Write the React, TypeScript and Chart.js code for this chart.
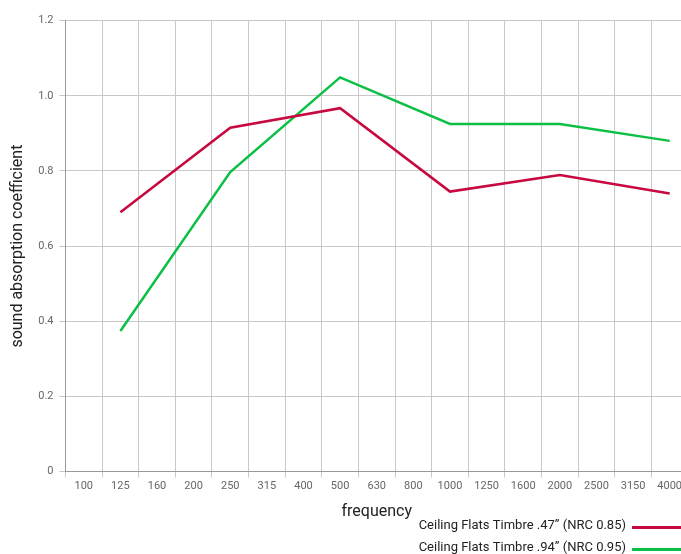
import React, { useEffect, useRef } from "react";
import { Chart, registerables } from "chart.js";

Chart.register(...registerables);

const categories = ["100", "125", "160", "200", "250", "315", "400", "500", "630", "800", "1000", "1250", "1600", "2000", "2500", "3150", "4000"];
const seriesNames = ["Ceiling Flats Timbre .47\u201D (NRC 0.85)", "Ceiling Flats Timbre .94\u201D (NRC 0.95)"];
const thinValues = [null, 0.69, null, null, 0.915, null, null, 0.967, null, null, 0.745, null, null, 0.789, null, null, 0.74];
const thickValues = [null, 0.374, null, null, 0.797, null, null, 1.049, null, null, 0.925, null, null, 0.925, null, null, 0.88];
const colors = ["#c8093f", "#0cbf45"];
const yTicks = [0, 0.2, 0.4, 0.6, 0.8, 1.0, 1.2];

const LEGEND_H = 54;
const BOTTOM_PAD = 54;

const stackedLegendPlugin = {
  id: "stackedLegend",
  afterDraw(chart: any) {
    const ctx = chart.ctx;
    const top = chart.height - LEGEND_H;
    const lineStart = chart.width - 56;
    ctx.save();
    ctx.font = "13px Roboto";
    ctx.textAlign = "right";
    ctx.textBaseline = "middle";
    chart.data.datasets.forEach((d: any, i: number) => {
      const y = top + 16 + i * 22;
      ctx.fillStyle = "#222";
      ctx.fillText(d.label, lineStart - 6, y);
      ctx.strokeStyle = d.borderColor;
      ctx.lineWidth = 3;
      ctx.beginPath();
      ctx.moveTo(lineStart, y + 1.5);
      ctx.lineTo(lineStart + 60, y + 1.5);
      ctx.stroke();
    });
    ctx.restore();
  },
};

export default function App() {
  const ref = useRef<HTMLCanvasElement | null>(null);
  useEffect(() => {
    if (!ref.current) return;
    const chart = new Chart(ref.current, {
      type: "line",
      data: {
        labels: categories,
        datasets: [
          { label: seriesNames[0], data: thinValues, borderColor: colors[0], backgroundColor: colors[0], borderWidth: 2.5, pointRadius: 0, spanGaps: true, tension: 0 },
          { label: seriesNames[1], data: thickValues, borderColor: colors[1], backgroundColor: colors[1], borderWidth: 2.5, pointRadius: 0, spanGaps: true, tension: 0 },
        ],
      },
      plugins: [stackedLegendPlugin],
      options: {
        animation: false,
        responsive: true,
        maintainAspectRatio: false,
        layout: { padding: { top: 1, right: 0, left: 0, bottom: BOTTOM_PAD } },
        plugins: {
          tooltip: { enabled: false },
          legend: { display: false },
        },
        scales: {
          x: {
            offset: true,
            grid: { offset: true, color: "#c8c8c8", tickLength: 6 },
            border: { color: "#999" },
            ticks: { color: "#666", font: { family: "Roboto", size: 11 }, padding: 2, autoSkip: false, maxRotation: 0 },
            title: { display: true, text: "frequency", color: "#222", font: { family: "Roboto", size: 16 }, padding: { top: 8, bottom: -12 } },
          },
          y: {
            min: 0,
            max: 1.2,
            afterBuildTicks: (s: any) => { s.ticks = yTicks.map((v) => ({ value: v })); },
            grid: { color: "#c8c8c8", tickLength: 6 },
            border: { color: "#999" },
            ticks: { color: "#666", font: { family: "Roboto", size: 11 }, padding: 6, callback: (v: any) => (Number(v) === 0 ? "0" : Number(v).toFixed(1)) },
            title: { display: true, text: "sound absorption coefficient", color: "#222", font: { family: "Roboto", size: 16 }, padding: { top: 0, bottom: 5 } },
          },
        },
      },
    });
    return () => chart.destroy();
  }, []);
  return (
    <div style={{ position: "absolute", left: 0, top: 0, width: 681, height: 554, overflow: "hidden", background: "#fff" }}>
      <div style={{ position: "absolute", left: 8, top: 8, width: 680, height: 556 }}>
        <canvas ref={ref} />
      </div>
    </div>
  );
}
